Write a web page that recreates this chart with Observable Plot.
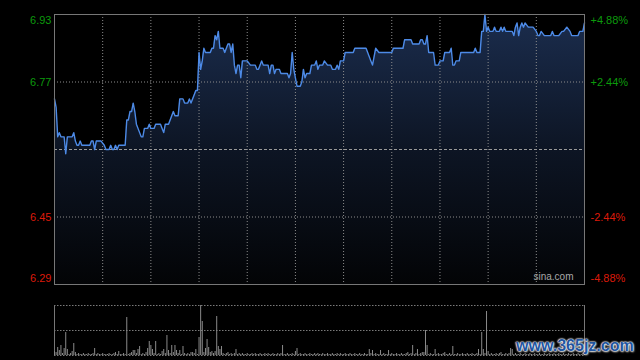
<!DOCTYPE html>
<html><head><meta charset="utf-8">
<script src="https://cdn.jsdelivr.net/npm/d3@7"></script>
<script src="https://cdn.jsdelivr.net/npm/@observablehq/plot@0.6"></script>
<style>
html,body{margin:0;padding:0;background:#000;}
#wrap{position:relative;width:640px;height:360px;overflow:hidden;background:#000;}
#wrap svg{display:block;}
.wm{position:absolute;left:516px;top:337px;line-height:16px;font:bold 16px "Liberation Sans",Arial,sans-serif;color:#22559f;
text-shadow:0 0 2px #fff,0 0 2px #fff,0 0 1px #fff,1px 1px 2px #bbb;white-space:nowrap;}
</style></head>
<body><div id="wrap"></div>
<script>
// minutes since open (HK session, 330 minutes) and last price at each vertex
const minutes = [0,1,2,3,4,6,7,8,11,12,13,14,15,16,17,22,23,24,25,26,29,31,32,34,35,36,37,38,39,40,44,45,46,47,48,49,50,51,53,54,55,56,58,59,60,62,63,66,67,68,69,71,73,74,75,77,78,80,81,83,84,85,87,88,89,90,91,92,93,94,97,98,99,100,101,102,103,105,106,108,109,110,111,112,113,114,115,116,117,120,122,125,126,127,129,130,133,134,135,136,137,138,140,141,145,146,147,148,149,150,151,153,154,155,156,157,159,160,162,163,164,165,167,168,170,172,173,175,176,177,178,180,181,186,187,194,196,197,198,199,200,202,210,211,217,218,222,223,227,228,229,230,231,232,233,236,237,239,240,242,243,246,247,248,249,250,252,253,261,262,263,265,266,267,268,269,270,271,273,274,275,277,278,279,280,281,285,286,287,288,289,290,291,292,293,295,298,300,301,302,303,305,306,309,310,311,314,316,317,319,321,322,323,326,327,329,330];
const prices = [6.73,6.71,6.64,6.65,6.64,6.64,6.60,6.64,6.64,6.65,6.63,6.62,6.62,6.63,6.62,6.62,6.63,6.63,6.61,6.63,6.63,6.62,6.61,6.61,6.62,6.61,6.61,6.62,6.61,6.62,6.62,6.68,6.68,6.70,6.70,6.72,6.70,6.67,6.65,6.64,6.64,6.66,6.66,6.67,6.66,6.66,6.67,6.67,6.66,6.65,6.67,6.67,6.69,6.70,6.69,6.69,6.73,6.73,6.72,6.72,6.73,6.72,6.74,6.75,6.75,6.84,6.80,6.82,6.85,6.84,6.84,6.85,6.85,6.88,6.87,6.89,6.85,6.85,6.84,6.86,6.86,6.84,6.86,6.81,6.79,6.81,6.81,6.78,6.82,6.82,6.81,6.81,6.80,6.80,6.82,6.81,6.81,6.79,6.81,6.81,6.79,6.80,6.80,6.79,6.79,6.78,6.79,6.84,6.80,6.78,6.76,6.76,6.77,6.80,6.78,6.79,6.79,6.81,6.81,6.82,6.80,6.81,6.81,6.82,6.81,6.81,6.80,6.80,6.81,6.80,6.82,6.82,6.84,6.84,6.85,6.85,6.83,6.82,6.81,6.83,6.85,6.84,6.84,6.85,6.85,6.87,6.87,6.86,6.86,6.87,6.87,6.86,6.86,6.88,6.84,6.84,6.81,6.81,6.82,6.82,6.84,6.84,6.85,6.81,6.81,6.82,6.82,6.84,6.84,6.85,6.84,6.84,6.89,6.89,6.93,6.89,6.90,6.89,6.89,6.90,6.89,6.89,6.90,6.89,6.90,6.89,6.89,6.88,6.90,6.91,6.88,6.90,6.91,6.90,6.91,6.90,6.90,6.89,6.88,6.88,6.89,6.88,6.88,6.88,6.89,6.88,6.88,6.89,6.89,6.90,6.89,6.88,6.88,6.88,6.89,6.89,6.91];
// volume per minute (relative units)
const volume = [
4,3,8,5,10,2,7,23,6,1, 2,4,12,3,1,2,1,1,2,1, 1,2,1,1,2,7,1,2,1,1, 2,1,1,1,2,1,1,2,3,1,
4,1,1,2,1,38,1,2,3,5, 5,2,6,9,1,2,1,3,7,14, 10,6,2,14,1,2,1,4,6,2, 20,5,2,10,3,10,5,2,5,1,
9,2,1,2,1,3,3,2,6,1, 18,50,34,3,7,16,8,3,4,2, 4,39,9,6,9,2,1,2,3,1, 2,1,2,6,1,2,1,2,1,1,
2,1,1,2,1,2,1,1,2,1, 1,2,1,2,1,1,2,1,1,2, 1,2,10,1,1,2,1,1,2,1, 4,7,1,2,1,1,2,1,1,2,
1,1,2,1,2,1,1,2,1,1, 2,1,1,2,1,1,2,1,2,1, 1,2,1,1,2,1,1,2,1,1, 2,1,1,2,1,1,6,2,5,1,
2,1,1,5,1,2,1,1,5,1, 2,1,1,2,1,1,2,1,1,2, 3,1,2,10,1,2,6,1,2,3, 3,25,10,1,2,1,1,6,1,2,
1,1,2,3,1,1,2,1,9,1, 1,2,1,1,2,1,1,2,1,1, 2,1,1,2,6,1,23,6,2,44, 4,1,2,1,1,2,1,2,3,1,
1,2,1,2,7,6,1,2,1,1, 2,1,1,2,1,1,2,1,1,2, 1,1,2,1,1,2,1,1,2,1, 1,2,1,1,2,1,1,2,1,1,
2,1,1,2,1,1,2,1,1,2, 1];
const prevClose = 6.61;
const priceTicks = [6.93, 6.77, 6.45, 6.29];
const pctTicks = ["+4.88%", "+2.44%", "-2.44%", "-4.88%"];
const gridMinutes = [30, 60, 90, 120, 150, 180, 210, 240, 270, 300];
const volMax = 50;

const priceData = minutes.map((m, i) => ({m, p: prices[i]}));
const labels = priceTicks.map((v, i) => ({v, pct: pctTicks[i]}));
const volData = volume.map((v, i) => ({m: i, v}));

const GREEN = "#0c9a0c", RED = "#dd1a0a";
const font = "'Liberation Sans', Arial, sans-serif";

function labelMarks(i, dy, color) {
  return [
    Plot.text(labels, {filter: (d, j) => j === i, y: "v", text: d => d.v.toFixed(2), frameAnchor: "left", textAnchor: "end", dx: -3, dy, fill: color, fontSize: 11}),
    Plot.text(labels, {filter: (d, j) => j === i, y: "v", text: "pct", frameAnchor: "right", textAnchor: "start", dx: 6, dy, fill: color, fontSize: 11})
  ];
}

const chart1 = Plot.plot({
  width: 640, height: 290, marginTop: 14, marginBottom: 6, marginLeft: 54, marginRight: 56,
  style: {background: "#000", fontFamily: font, fontSize: "11px"},
  x: {domain: [0, 330], axis: null},
  y: {domain: [6.29, 6.93], axis: null},
  marks: [
    Plot.areaY(priceData, {x: "m", y1: 6.29, y2: "p", fill: "url(#pgrad)"}),
    Plot.ruleX(gridMinutes, {stroke: "#8c8c8c", strokeDasharray: "1,2"}),
    Plot.ruleY([6.77, 6.45], {stroke: "#8c8c8c", strokeDasharray: "1,2"}),
    Plot.ruleY([prevClose], {stroke: "#9a9a9a", strokeDasharray: "3,2"}),
    Plot.lineY(priceData, {x: "m", y: "p", stroke: "#4d8ae6", strokeWidth: 1.4}),
    Plot.frame({stroke: "#777"}),
    ...labelMarks(0, 6, GREEN),
    ...labelMarks(1, 0, GREEN),
    ...labelMarks(2, 0, RED),
    ...labelMarks(3, -6, RED),
    Plot.text(["sina.com"], {text: d => d, frameAnchor: "bottom-right", textAnchor: "end", dx: -11, dy: -5, fill: "#a8a8a8", fontSize: 10})
  ]
});
d3.select(chart1).insert("defs", ":first-child").html(
  '<linearGradient id="pgrad" gradientUnits="userSpaceOnUse" x1="0" y1="14" x2="0" y2="284">' +
  '<stop offset="0" stop-color="#1b2d4e"/><stop offset="0.5" stop-color="#0d1524"/><stop offset="1" stop-color="#030406"/></linearGradient>');

const chart2 = Plot.plot({
  width: 640, height: 70, marginTop: 15, marginBottom: 5, marginLeft: 54, marginRight: 56,
  style: {background: "#000", fontFamily: font},
  x: {domain: [0, 330], axis: null},
  y: {domain: [0, volMax], axis: null},
  marks: [
    Plot.ruleY([volMax, volMax / 2, 0], {stroke: "#7a7a7a", strokeDasharray: "1.5,1.5"}),
    Plot.ruleX([0, 330], {stroke: "#777"}),
    Plot.ruleX(volData, {x: "m", y1: 0, y2: "v", stroke: "#8a8a8a"})
  ]
});

const wrap = document.getElementById("wrap");
wrap.appendChild(chart1);
wrap.appendChild(chart2);
const wm = document.createElement("div");
wm.className = "wm";
wm.textContent = "www.365jz.com";
wrap.appendChild(wm);
</script>
</body></html>
